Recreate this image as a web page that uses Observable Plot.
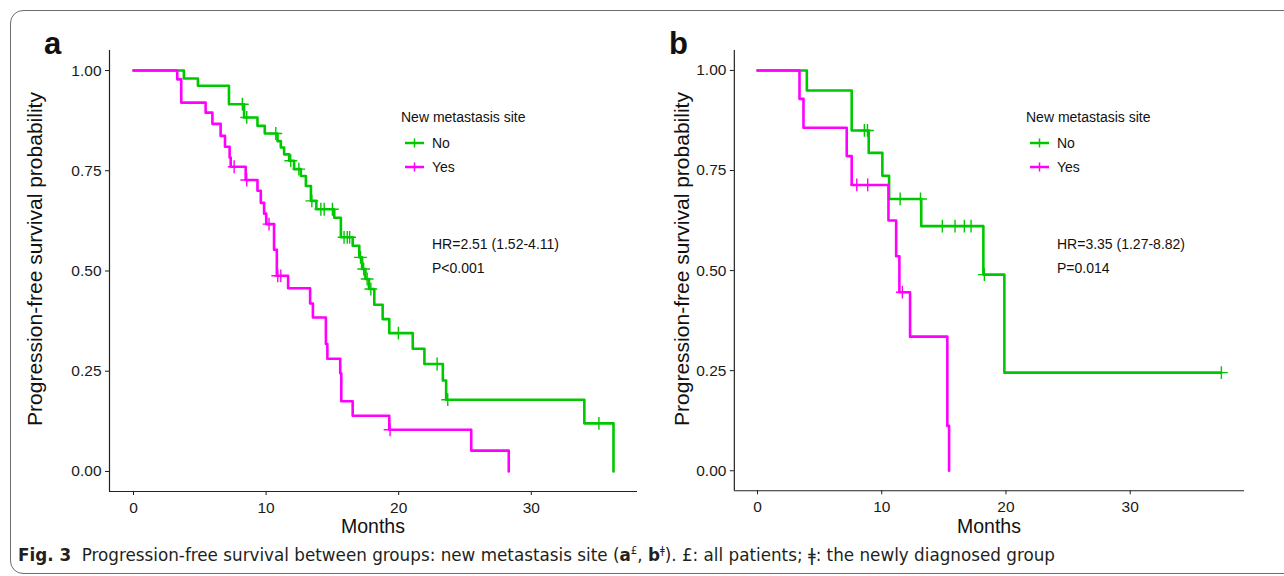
<!DOCTYPE html>
<html><head><meta charset="utf-8">
<script src="https://cdn.jsdelivr.net/npm/d3@7"></script>
<script src="https://cdn.jsdelivr.net/npm/@observablehq/plot@0.6"></script>
<style>
html,body{margin:0;padding:0;background:#fff;}
#fig{position:relative;width:1284px;height:576px;overflow:hidden;background:#fff;font-family:"Liberation Sans",Arial,sans-serif;color:#111;}
.abs{position:absolute;white-space:nowrap;line-height:1;}
.border{position:absolute;left:10px;top:10px;width:1300px;height:562px;border:1.4px solid #6e6e6e;border-radius:13px;}
.panel{position:absolute;top:0;}
.plab{font-weight:bold;font-size:31px;}
.ytitle{font-size:21px;transform:translate(-50%,-50%) rotate(-90deg);}
.xtitle{font-size:19.5px;transform:translate(-50%,-50%);}
.leg{font-size:14px;transform:translateY(-50%);}
#caption{position:absolute;left:18px;top:544px;white-space:nowrap;font-family:"DejaVu Sans Condensed","Liberation Sans Narrow","Liberation Sans",sans-serif;font-stretch:condensed;font-size:18px;color:#231f20;transform-origin:0 0;}
</style></head><body><div id="fig"><div class="border"></div></div>
<script>
// ---------- data ----------
const groups = ["No", "Yes"];
const colors = ["#00C800", "#FF00FF"];
const yTicks = [0, 0.25, 0.5, 0.75, 1];
const xTicks = [0, 10, 20, 30];

// Panel a: all patients
const aNoTime = [0, 3.80, 4.86, 7.20, 8.34, 9.35, 9.90, 10.86, 11.11, 11.36, 11.74, 12.11, 12.62, 13.00, 13.38, 13.79, 15.14, 15.64, 16.53, 17.03, 17.24, 17.49, 17.76, 18.16, 18.79, 19.29, 21.06, 21.94, 23.33, 23.58, 34.0, 36.2];
const aNoSurv = [1, 0.98, 0.962, 0.916, 0.883, 0.862, 0.843, 0.824, 0.808, 0.791, 0.775, 0.754, 0.737, 0.712, 0.675, 0.654, 0.633, 0.584, 0.563, 0.534, 0.505, 0.48, 0.455, 0.416, 0.38, 0.345, 0.306, 0.268, 0.227, 0.179, 0.12, 0];
const aNoCens = [8.21, 8.54, 10.73, 11.86, 12.47, 13.45, 14.13, 14.38, 15.0, 15.88, 16.12, 16.3, 17.12, 17.36, 17.62, 17.9, 19.98, 22.9, 23.7, 35.1];
const aYesTime = [0, 3.30, 3.60, 5.44, 5.95, 6.57, 6.90, 7.25, 7.33, 8.46, 9.35, 9.60, 9.85, 10.01, 10.60, 10.81, 11.66, 13.32, 13.53, 14.51, 14.62, 15.59, 15.67, 16.53, 19.29, 25.47, 28.3];
const aYesSurv = [1, 0.978, 0.92, 0.895, 0.867, 0.837, 0.81, 0.783, 0.76, 0.727, 0.70, 0.67, 0.643, 0.617, 0.553, 0.488, 0.457, 0.419, 0.384, 0.318, 0.281, 0.245, 0.175, 0.139, 0.104, 0.052, 0];
const aYesCens = [7.59, 8.54, 10.22, 10.88, 11.11, 19.35];

// Panel b: newly diagnosed group
const bNoTime = [0, 3.97, 7.58, 8.95, 10.05, 10.59, 13.18, 18.18, 19.87, 37.34];
const bNoSurv = [1, 0.95, 0.85, 0.794, 0.737, 0.679, 0.611, 0.49, 0.245, 0.245];
const bNoCens = [8.6, 8.85, 11.48, 13.12, 14.88, 15.9, 16.65, 17.19, 18.26, 37.34];
const bYesTime = [0, 3.38, 3.70, 7.18, 7.58, 10.54, 11.16, 11.42, 12.28, 15.28, 15.42];
const bYesSurv = [1, 0.929, 0.857, 0.786, 0.714, 0.625, 0.536, 0.446, 0.335, 0.112, 0];
const bYesCens = [7.99, 8.87, 11.66];

const panelLetters = ["a", "b"];
const hrText = ["HR=2.51 (1.52-4.11)", "HR=3.35 (1.27-8.82)"];
const pText = ["P<0.001", "P=0.014"];
const legendTitle = "New metastasis site";
const yTitle = "Progression-free survival probability";
const xTitle = "Months";
const captionBold = "Fig. 3";
const captionText = "Progression-free survival between groups: new metastasis site (";

// ---------- helpers ----------
function steps(times, surv, group) {
  return times.map((t, i) => ({t, s: surv[i], group}));
}
function cens(ctimes, times, surv, group) {
  return ctimes.map(t => {
    let idx = 0;
    for (let i = 0; i < times.length; i++) if (times[i] <= t) idx = i;
    return {t, s: surv[idx], group};
  });
}

const fig = document.getElementById("fig");

const panels = [
  {
    left: 0, rightMargin: 23,
    series: [
      {color: colors[0], line: steps(aNoTime, aNoSurv, groups[0]), cens: cens(aNoCens, aNoTime, aNoSurv, groups[0])},
      {color: colors[1], line: steps(aYesTime, aYesSurv, groups[1]), cens: cens(aYesCens, aYesTime, aYesSurv, groups[1])}
    ],
    tmax: Math.max(...aNoTime, ...aYesTime),
    letterX: 45, ytX: 34, xtX: 373, legX: 401, hrX: 432
  },
  {
    left: 625, rightMargin: 40,
    series: [
      {color: colors[0], line: steps(bNoTime, bNoSurv, groups[0]), cens: cens(bNoCens, bNoTime, bNoSurv, groups[0])},
      {color: colors[1], line: steps(bYesTime, bYesSurv, groups[1]), cens: cens(bYesCens, bYesTime, bYesSurv, groups[1])}
    ],
    tmax: Math.max(...bNoTime, ...bYesTime),
    letterX: 670, ytX: 681, xtX: 989, legX: 1026, hrX: 1057
  }
];

panels.forEach((p, i) => {
  const xd = [-0.05 * p.tmax, 1.05 * p.tmax];
  const yd = [-0.05, 1.05];
  const marks = [
    Plot.ruleX([xd[0]], {stroke: "#222", strokeWidth: 1.2}),
    Plot.ruleY([yd[0]], {stroke: "#222", strokeWidth: 1.2})
  ];
  for (const sr of p.series) {
    marks.push(Plot.line(sr.line, {x: "t", y: "s", curve: "step-after", stroke: sr.color, strokeWidth: 2.6}));
    marks.push(Plot.dot(sr.cens, {x: "t", y: "s", symbol: "plus", r: 4.2, stroke: sr.color, strokeWidth: 1.4}));
  }
  const plot = Plot.plot({
    width: 660, height: 545,
    marginLeft: 109, marginTop: 50, marginBottom: 54, marginRight: p.rightMargin,
    x: {domain: xd, ticks: xTicks, tickSize: 4, tickPadding: 6, label: null},
    y: {domain: yd, ticks: yTicks, tickFormat: ".2f", tickSize: 4, tickPadding: 4, label: null},
    style: {fontSize: "15.5px", fontFamily: "'Liberation Sans', Arial, sans-serif", color: "#1a1a1a", background: "transparent", overflow: "visible"},
    marks
  });
  const wrap = document.createElement("div");
  wrap.className = "panel";
  wrap.style.left = p.left + "px";
  wrap.appendChild(plot);
  fig.appendChild(wrap);

  const add = (cls, text, x, y) => {
    const d = document.createElement("div");
    d.className = "abs " + cls;
    d.textContent = text;
    d.style.left = x + "px";
    d.style.top = y + "px";
    fig.appendChild(d);
    return d;
  };
  add("plab", panelLetters[i], p.letterX - 1, 28);
  add("ytitle", yTitle, p.ytX, 259);
  add("xtitle", xTitle, p.xtX, 527);
  add("leg", legendTitle, p.legX, 117);
  groups.forEach((g, j) => {
    const y = 142.5 + j * 24;
    const key = document.createElementNS("http://www.w3.org/2000/svg", "svg");
    key.setAttribute("width", 22); key.setAttribute("height", 12);
    key.style.position = "absolute";
    key.style.left = (p.legX + 3) + "px";
    key.style.top = (y - 6) + "px";
    key.innerHTML = `<line x1="1" x2="20" y1="6" y2="6" stroke="${colors[j]}" stroke-width="2.5"/><line x1="10.5" x2="10.5" y1="1.5" y2="10.5" stroke="${colors[j]}" stroke-width="1.5"/>`;
    fig.appendChild(key);
    add("leg", g, p.legX + 31, y);
  });
  add("leg", hrText[i], p.hrX, 244);
  add("leg", pText[i], p.hrX, 268);
});

// caption
const cap = document.createElement("div");
cap.id = "caption";
cap.innerHTML = `<b>${captionBold}</b>&nbsp;&nbsp;${captionText}<b>a</b><sup style="font-size:11px">£</sup>, <b>b</b><sup style="font-size:11px">ǂ</sup>). £: all patients; ǂ: the newly diagnosed group`;
fig.appendChild(cap);
const w = cap.getBoundingClientRect().width;
cap.style.transform = `scaleX(${1037 / w})`;
</script>
</body></html>
